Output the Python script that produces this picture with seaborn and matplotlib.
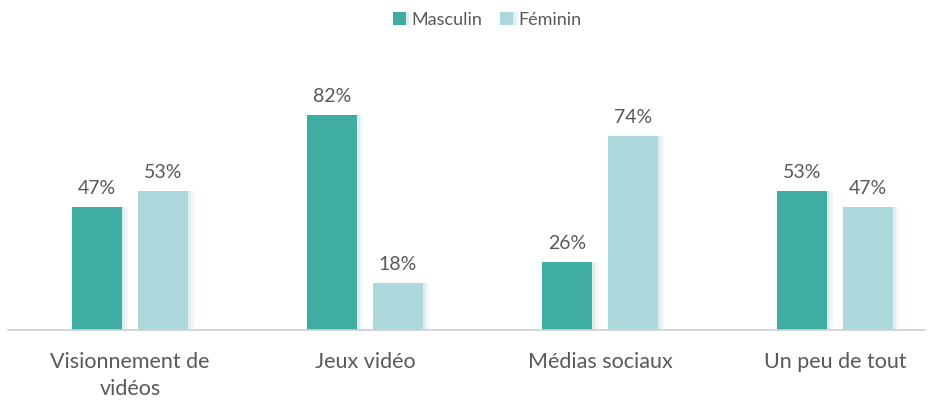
import pandas as pd
import matplotlib.pyplot as plt
import matplotlib.patheffects as pe
import seaborn as sns

# Données du graphique
categories = ['Visionnement de\nvidéos', 'Jeux vidéo', 'Médias sociaux', 'Un peu de tout']
masculin = [47, 82, 26, 53]
feminin = [53, 18, 74, 47]
series = ['Masculin', 'Féminin']

df = pd.DataFrame({
    'Categorie': categories * 2,
    'Genre': [series[0]] * 4 + [series[1]] * 4,
    'Pourcentage': masculin + feminin,
})

sns.set_style('white')
plt.rcParams['font.family'] = ['Lato', 'DejaVu Sans']
gris = '#595959'

fig = plt.figure(figsize=(9.34, 4.01), dpi=100)
ax = fig.add_axes([8 / 934, 71 / 401, 917 / 934, 262 / 401])

sns.barplot(data=df, x='Categorie', y='Pourcentage', hue='Genre',
            palette=['#3fada2', '#acd8dc'], width=0.56, gap=0.23,
            saturation=1, linewidth=0, ax=ax)

# Ombre douce à droite des barres
for p in ax.patches:
    p.set_linewidth(0)
    p.set_path_effects([pe.SimplePatchShadow(offset=(4, 0), shadow_rgbFace='#e6f3f3', alpha=0.6),
                        pe.SimplePatchShadow(offset=(2, 0), shadow_rgbFace='#cfe9e9', alpha=0.6),
                        pe.Normal()])

for cont in ax.containers:
    ax.bar_label(cont, labels=[f'{v:.0f}%' for v in cont.datavalues],
                 padding=7, fontsize=14, color=gris)

ax.set_xlim(-0.519, 3.383)
ax.set_ylim(0, 100)
ax.set_xlabel('')
ax.set_ylabel('')
ax.set_yticks([])
ax.tick_params(axis='x', length=0, pad=16, labelsize=15.5, labelcolor=gris)
for lab in ax.get_xticklabels():
    lab.set_linespacing(1.45)
for s in ['top', 'right', 'left']:
    ax.spines[s].set_visible(False)
ax.spines['bottom'].set_color('#d0d0d0')
ax.spines['bottom'].set_linewidth(1.2)

handles, labels = ax.get_legend_handles_labels()
ax.legend(handles, labels, loc='center', bbox_to_anchor=(0.522, 0.95),
          bbox_transform=fig.transFigure, ncol=2, frameon=False,
          handlelength=0.7, handleheight=0.7, handletextpad=0.3,
          columnspacing=1.0, fontsize=13, labelcolor=gris)

plt.savefig('out.png', dpi=100)
plt.close()
